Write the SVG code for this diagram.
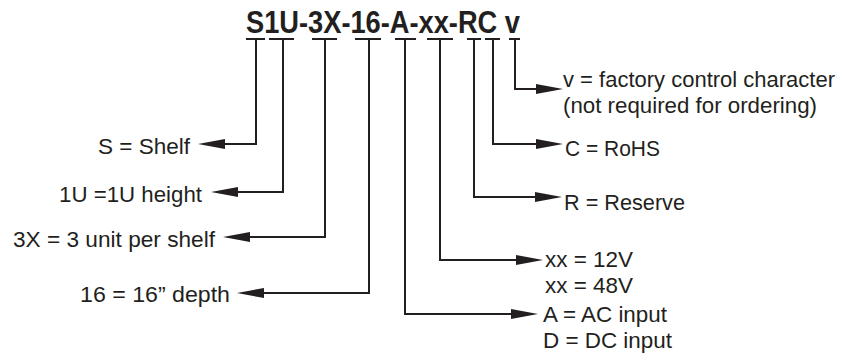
<svg xmlns="http://www.w3.org/2000/svg" width="847" height="354" viewBox="0 0 847 354">
  <style>
    .lbl { font-family: "Liberation Sans", Arial, sans-serif; font-size: 22.5px; fill: #231f20; }
    .code { font-family: "Liberation Sans", Arial, sans-serif; font-size: 31px; font-weight: bold; fill: #231f20; }
    .ul { stroke: #231f20; stroke-width: 2; fill: none; }
    .conn { stroke: #231f20; stroke-width: 2; fill: none; marker-end: url(#arr); }
  </style>
  <defs>
    <marker id="arr" markerUnits="userSpaceOnUse" markerWidth="28" markerHeight="11" refX="1" refY="5" orient="auto" overflow="visible">
      <path d="M0,0 L27,5 L0,10 Z" fill="#231f20"/>
    </marker>
  </defs>
  <rect width="847" height="354" fill="#ffffff"/>

  <g id="code">
    <text class="code" x="246" y="33" textLength="274" lengthAdjust="spacingAndGlyphs">S1U-3X-16-A-xx-RC v</text>
    <path class="ul" d="M246,39 H265 M269,39 H294 M312,39 H337 M355,39 H381 M395,39 H416 M427,39 H453 M467,39 H481 M485,39 H500 M509,39 H520"/>
  </g>

  <g id="connectors">
    <path class="conn" d="M256,39 V144 H224"/>
    <path class="conn" d="M283,39 V192 H237"/>
    <path class="conn" d="M325,39 V237 H249"/>
    <path class="conn" d="M369,39 V293 H263"/>
    <path class="conn" d="M405,39 V314 H512"/>
    <path class="conn" d="M440,39 V260 H517"/>
    <path class="conn" d="M474,39 V197 H536"/>
    <path class="conn" d="M493,39 V144 H537"/>
    <path class="conn" d="M515,39 V89 H537"/>
  </g>

  <g id="label-s">
    <text class="lbl" x="190" y="154" text-anchor="end" textLength="92" lengthAdjust="spacingAndGlyphs">S = Shelf</text>
  </g>
  <g id="label-1u">
    <text class="lbl" x="202" y="202" text-anchor="end" textLength="143" lengthAdjust="spacingAndGlyphs">1U =1U height</text>
  </g>
  <g id="label-3x">
    <text class="lbl" x="215" y="247" text-anchor="end" textLength="202" lengthAdjust="spacingAndGlyphs">3X = 3 unit per shelf</text>
  </g>
  <g id="label-16">
    <text class="lbl" x="230" y="302" text-anchor="end" textLength="150" lengthAdjust="spacingAndGlyphs">16 = 16” depth</text>
  </g>
  <g id="label-v">
    <text class="lbl" x="563" y="87" textLength="272" lengthAdjust="spacingAndGlyphs">v = factory control character</text>
    <text class="lbl" x="563" y="113" textLength="254" lengthAdjust="spacingAndGlyphs">(not required for ordering)</text>
  </g>
  <g id="label-c">
    <text class="lbl" x="565" y="156" textLength="95" lengthAdjust="spacingAndGlyphs">C = RoHS</text>
  </g>
  <g id="label-r">
    <text class="lbl" x="564" y="210" textLength="121" lengthAdjust="spacingAndGlyphs">R = Reserve</text>
  </g>
  <g id="label-xx">
    <text class="lbl" x="545" y="267" textLength="88" lengthAdjust="spacingAndGlyphs">xx = 12V</text>
    <text class="lbl" x="545" y="293" textLength="88" lengthAdjust="spacingAndGlyphs">xx = 48V</text>
  </g>
  <g id="label-a">
    <text class="lbl" x="543" y="322" textLength="124" lengthAdjust="spacingAndGlyphs">A = AC input</text>
    <text class="lbl" x="543" y="348" textLength="129" lengthAdjust="spacingAndGlyphs">D = DC input</text>
  </g>
</svg>
